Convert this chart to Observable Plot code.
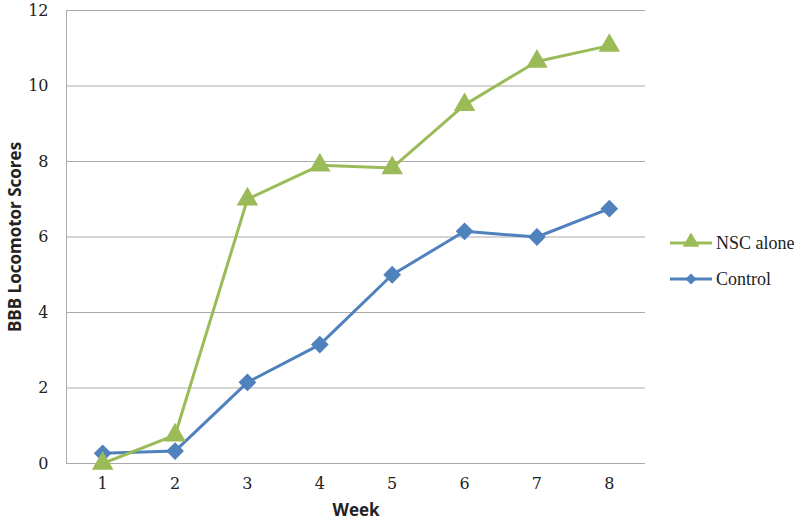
<!DOCTYPE html>
<html>
<head>
<meta charset="utf-8">
<script src="https://cdn.jsdelivr.net/npm/d3@7"></script>
<script src="https://cdn.jsdelivr.net/npm/@observablehq/plot@0.6"></script>
<style>
  html, body { margin: 0; padding: 0; background: #fff; }
  #wrap { position: relative; width: 800px; height: 521px; }
  g[aria-label="y-axis label"] text, g[aria-label="x-axis label"] text {
    font-family: "Open Sans", "DejaVu Sans", sans-serif; font-weight: bold; font-size: 17px; fill: #222;
  }
  g[aria-label="y-axis tick label"] text, g[aria-label="x-axis tick label"] text {
    font-family: "DejaVu Serif", "Liberation Serif", serif; font-size: 16px; fill: #222;
  }
  #legend { position: absolute; left: 668px; top: 225px; font-family: "Liberation Serif", serif; font-size: 18px; color: #222; white-space: nowrap; }
  #legend .row { display: flex; align-items: center; height: 36px; }
  #legend svg { margin-right: 2px; }
</style>
</head>
<body>
<div id="wrap"></div>
<script>
const weeks = [1, 2, 3, 4, 5, 6, 7, 8];
const nscAlone = [0, 0.75, 7.0, 7.9, 7.83, 9.5, 10.65, 11.07];
const control = [0.27, 0.33, 2.15, 3.15, 5.0, 6.15, 6.0, 6.75];
const seriesNames = ["NSC alone", "Control"];
const seriesColors = ["#9BBB59", "#4F81BD"];
const seriesSymbols = ["triangle", "diamond2"];
const yTicks = [0, 2, 4, 6, 8, 10, 12];

const data = [];
weeks.forEach((w, i) => {
  data.push({week: w, value: control[i], series: "Control"});
});
weeks.forEach((w, i) => {
  data.push({week: w, value: nscAlone[i], series: "NSC alone"});
});

const chart = Plot.plot({
  width: 800,
  height: 521,
  marginLeft: 66,
  marginRight: 155,
  marginTop: 10,
  marginBottom: 58,
  style: {background: "#fff", overflow: "visible"},
  x: {domain: [0.5, 8.5], ticks: weeks, label: "Week", labelAnchor: "center", labelArrow: "none", labelOffset: 52, tickSize: 0, tickPadding: 14},
  y: {domain: [0, 12], ticks: yTicks, label: "BBB Locomotor Scores", labelAnchor: "center", labelArrow: "none", labelOffset: 58, tickSize: 0, tickPadding: 18, grid: false},
  color: {domain: seriesNames, range: seriesColors},
  symbol: {domain: seriesNames, range: seriesSymbols},
  marks: [
    Plot.gridY(yTicks.slice(1), {stroke: "#aaa", strokeOpacity: 1, strokeWidth: 1}),
    Plot.ruleY([0], {stroke: "#aaa", strokeWidth: 1}),
    Plot.ruleX([0.5], {stroke: "#aaa", strokeWidth: 1}),
    Plot.line(data, {x: "week", y: "value", z: "series", stroke: "series", strokeWidth: 3}),
    Plot.dot(data.filter(d => d.series === "Control"), {x: "week", y: "value", symbol: "series", fill: "series", r: 8, stroke: null}),
    Plot.dot(data.filter(d => d.series === "NSC alone"), {x: "week", y: "value", symbol: "series", fill: "series", r: 8, stroke: null})
  ]
});
document.getElementById("wrap").appendChild(chart);

// HTML legend
const legend = document.createElement("div");
legend.id = "legend";
seriesNames.forEach((name, i) => {
  const row = document.createElement("div");
  row.className = "row";
  const isTri = seriesSymbols[i] === "triangle";
  const sym = d3.symbol(isTri ? d3.symbolTriangle : d3.symbolDiamond2, isTri ? 120 : 80)();
  row.innerHTML = `<svg width="46" height="20"><line x1="2" x2="44" y1="10" y2="10" stroke="${seriesColors[i]}" stroke-width="3"/><path transform="translate(23,${isTri ? 9 : 10})" d="${sym}" fill="${seriesColors[i]}"/></svg><span>${name}</span>`;
  legend.appendChild(row);
});
document.getElementById("wrap").appendChild(legend);
</script>
</body>
</html>
